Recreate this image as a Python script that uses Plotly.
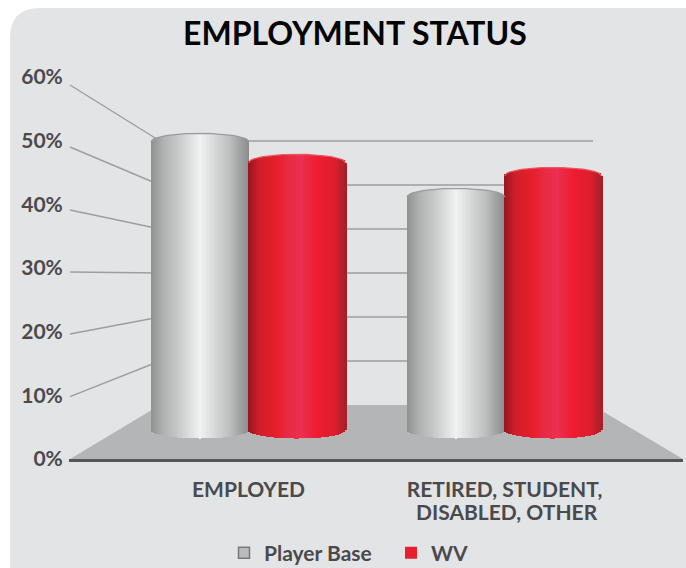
import numpy as np
import plotly.graph_objects as go
from plotly.colors import sample_colorscale

categories = ["EMPLOYED", "RETIRED, STUDENT,"]
category_second_line = ["", "DISABLED, OTHER"]
player_base = [54.9, 44.4]
wv = [50.9, 48.4]
axis_ticks = [0, 10, 20, 30, 40, 50, 60]
axis_labels = ["0%", "10%", "20%", "30%", "40%", "50%", "60%"]

W, H = 686, 568
L, R, B = 69, 683, 459            # plot area edges in pixels
GROUP_PX = 256.0
ZERO_X = 248.5
BAR_ZERO_Y, BAR_PX = 430.0, 5.25  # cylinder depth scale
LBL_PX = 6.367                    # front label scale


def px(x):
    return (x - L) / (R - L)


def py(y):
    return (B - y) / B


GRAY = [[0, "#8f9090"], [.12, "#afb0b0"], [.3, "#cbcccc"], [.5, "#f1f2f2"], [.62, "#dcdddd"], [.8, "#bebfbf"], [1, "#898a8a"]]
RED = [[0, "#931720"], [.12, "#d11f2a"], [.3, "#e61f2d"], [.45, "#e92c48"], [.55, "#ec2f52"], [.72, "#ee1c30"], [.9, "#dc1e2c"], [1, "#a81f29"]]


def cylinder_trace(values, offset_px, half_px, scale):
    """One cylinder per value, drawn as thin bars that follow the end ellipses."""
    step = 2.0
    ry = 8.5 / BAR_PX
    xs, ys, bases, cols = [], [], [], []
    edges = np.arange(-half_px, half_px, step)
    for i, v in enumerate(values):
        for e in edges:
            c = e + step / 2
            t = c / half_px
            cap = ry * np.sqrt(max(0, 1 - t * t))
            xs.append(i + (offset_px + c) / GROUP_PX)
            ys.append(v + 2 * cap)
            bases.append(-cap)
            cols.append(sample_colorscale(scale, [(t + 1) / 2])[0])
    return go.Bar(x=xs, y=ys, base=bases, width=step * 1.25 / GROUP_PX,
                  marker=dict(color=cols, line=dict(width=0)),
                  showlegend=False, hoverinfo="skip")


def rim_trace(values, offset_px, half_px, color):
    ry = 8.5 / BAR_PX
    xs, ys = [], []
    for i, v in enumerate(values):
        ts = np.linspace(-1, 1, 41)
        xs += list(i + (offset_px + ts * half_px) / GROUP_PX) + [None]
        ys += list(v + ry * np.sqrt(1 - ts * ts)) + [None]
    return go.Scatter(x=xs, y=ys, mode="lines", line=dict(color=color, width=1.2),
                      showlegend=False, hoverinfo="skip")


fig = go.Figure()
fig.add_trace(cylinder_trace(player_base, -48.5, 49, GRAY))
fig.add_trace(rim_trace(player_base, -48.5, 49, "#9b9c9c"))
fig.add_trace(cylinder_trace(wv, 48.5, 48.5, RED))
fig.add_trace(rim_trace(wv, 48.5, 48.5, "#ee5560"))

# front axis labels
fig.add_trace(go.Scatter(x=[0, 0], y=[0, 60], yaxis="y2", mode="lines", opacity=0,
                         showlegend=False, hoverinfo="skip"))

# legend entries
fig.add_trace(go.Scatter(x=[None], y=[None], mode="markers", name="Player Base",
                         marker=dict(symbol="square", size=11, color="#b9baba",
                                     line=dict(color="#77787a", width=1.5))))
fig.add_trace(go.Scatter(x=[None], y=[None], mode="markers", name="WV",
                         marker=dict(symbol="square", size=12, color="#e81f2d")))

LINE = dict(color="#9d9e9f", width=1.4)
shapes = [
    dict(type="path", xref="paper", yref="paper", layer="below", line=dict(width=0), fillcolor="#e3e4e6",
         path=f"M {px(10)} {py(600)} L {px(10)} {py(38)} Q {px(10)} {py(8)} {px(40)} {py(8)} "
              f"L {px(700)} {py(8)} L {px(700)} {py(600)} Z"),
]
for front, wall in zip([396.7, 334, 272, 210, 147, 85], [361, 317, 273, 229, 185, 141]):
    shapes.append(dict(type="line", xref="paper", yref="paper", layer="below", line=LINE,
                       x0=px(70), y0=py(front), x1=px(160), y1=py(wall)))
    shapes.append(dict(type="line", xref="paper", yref="paper", layer="below", line=LINE,
                       x0=px(160), y0=py(wall), x1=px(593), y1=py(wall)))
shapes.append(dict(type="path", xref="paper", yref="paper", layer="below", line=dict(width=0),
                   fillcolor="#b4b5b7",
                   path=f"M {px(70)} {py(459)} L {px(160)} {py(405)} L {px(592)} {py(405)} L {px(683)} {py(459)} Z"))

FONT = "Lato, 'Open Sans', sans-serif"
TXT = "#4a4a4c"
annotations = [
    dict(text=t, x=i + 0.008, xref="x", y=py(511), yref="paper", yanchor="middle", showarrow=False,
         font=dict(family=FONT, size=21, color=TXT, weight=700))
    for i, t in enumerate(category_second_line) if t
]
fig.update_layout(
    width=W, height=H, autosize=False,
    margin=dict(l=L, r=W - R, t=0, b=H - B),
    paper_bgcolor="white", plot_bgcolor="rgba(0,0,0,0)",
    barmode="overlay", bargap=0,
    shapes=shapes, annotations=annotations,
    title=dict(text="EMPLOYMENT STATUS", x=(184 + 526) / 2 / W, xanchor="center", y=1 - 34 / H, yanchor="middle",
               xref="container", yref="container",
               font=dict(family=FONT, size=32, color="#050505", weight=700)),
    xaxis=dict(range=[(L - ZERO_X) / GROUP_PX, (R - ZERO_X) / GROUP_PX],
               tickmode="array", tickvals=[0, 1], ticktext=categories,
               showgrid=False, zeroline=False, showline=True, linecolor="#55565a", linewidth=2.5,
               ticks="outside", ticklen=10, tickcolor="rgba(0,0,0,0)",
               tickfont=dict(family=FONT, size=21, color=TXT, weight=700)),
    yaxis=dict(range=[(BAR_ZERO_Y - B) / BAR_PX, BAR_ZERO_Y / BAR_PX], visible=False),
    yaxis2=dict(range=[0, B / LBL_PX], overlaying="y", side="left", anchor="x",
                tickmode="array", tickvals=axis_ticks, ticktext=axis_labels,
                showgrid=False, zeroline=False, showline=False,
                ticks="outside", ticklen=1, tickwidth=0, tickcolor="rgba(0,0,0,0)",
                tickfont=dict(family=FONT, size=21, color=TXT, weight=700)),
    showlegend=True,
    legend=dict(orientation="h", xref="container", yref="container",
                x=224 / W, y=1 - 553 / H, xanchor="left", yanchor="middle",
                entrywidth=122, entrywidthmode="pixels", bgcolor="rgba(0,0,0,0)",
                font=dict(family=FONT, size=21, color=TXT, weight=700)),
)

fig.write_html("out.html", config=dict(displayModeBar=False),
               post_script="document.body.style.margin='0';")
